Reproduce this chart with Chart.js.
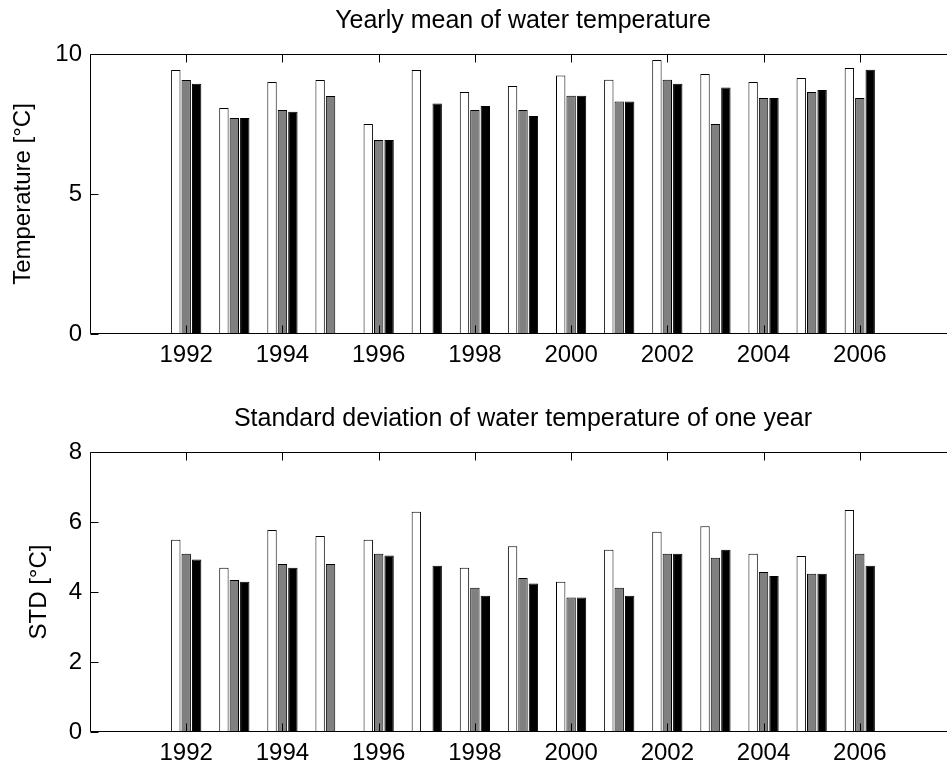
<!DOCTYPE html>
<html><head><meta charset="utf-8">
<script src="https://cdn.jsdelivr.net/npm/chart.js@4"></script>
<style>
html,body{margin:0;padding:0;background:#fff;overflow:hidden;width:947px;height:765px;position:relative;}
#c1{position:absolute;left:0;top:0;}
#c2{position:absolute;left:0;top:390px;}
</style></head><body>
<canvas id="c1" width="956" height="390"></canvas>
<canvas id="c2" width="956" height="375"></canvas>
<script>
// ---- data ----
const years = [1992,1993,1994,1995,1996,1997,1998,1999,2000,2001,2002,2003,2004,2005,2006];
const meanWhite = [9.43,8.07,9.00,9.07,7.50,9.43,8.64,8.86,9.23,9.08,9.79,9.29,9.00,9.14,9.50];
const meanGray  = [9.07,7.71,8.00,8.50,6.93,null,8.00,8.00,8.51,8.30,9.08,7.50,8.43,8.64,8.43];
const meanBlack = [8.94,7.71,7.94,null,6.93,8.23,8.14,7.79,8.51,8.30,8.94,8.80,8.43,8.71,9.44];
const stdWhite  = [5.49,4.69,5.77,5.60,5.49,6.29,4.69,5.31,4.29,5.21,5.72,5.88,5.09,5.03,6.34];
const stdGray   = [5.09,4.34,4.80,4.80,5.09,null,4.12,4.40,3.84,4.12,5.09,4.98,4.57,4.52,5.09];
const stdBlack  = [4.93,4.29,4.69,null,5.04,4.75,3.89,4.24,3.84,3.89,5.09,5.21,4.46,4.52,4.75];
const xTickYears = [1992,1994,1996,1998,2000,2002,2004,2006];
const meanTicks = [0,5,10];
const stdTicks = [0,2,4,6,8];
const xMin = 1990, xMax = 2008;

Chart.defaults.font.family = '"Liberation Sans", Arial, Helvetica, sans-serif';
Chart.defaults.color = '#000';

const boxPlugin = {
  id: 'matlabBox',
  afterDatasetsDraw(chart) {
    const {ctx, chartArea, scales} = chart;
    const x = scales.x, y = scales.y;
    const l = Math.round(chartArea.left) + 0.5, r = Math.round(chartArea.right) - 0.5;
    const t = Math.round(chartArea.top) + 0.5, b = Math.round(chartArea.bottom) - 0.5;
    const L = 8;
    ctx.save();
    ctx.strokeStyle = '#000';
    ctx.lineWidth = 1;
    ctx.beginPath();
    ctx.rect(l, t, r - l, b - t);
    x.ticks.forEach(tk => {
      const px = Math.round(x.getPixelForValue(tk.value)) + 0.5;
      ctx.moveTo(px, t); ctx.lineTo(px, t + L);
      ctx.moveTo(px, b); ctx.lineTo(px, b - L);
    });
    y.ticks.forEach(tk => {
      const py = Math.round(y.getPixelForValue(tk.value)) + 0.5;
      ctx.moveTo(l, py); ctx.lineTo(l + L, py);
      ctx.moveTo(r, py); ctx.lineTo(r - L, py);
    });
    ctx.stroke();
    ctx.restore();
  }
};

function makeDataset(vals, fill) {
  return {
    data: years.map((yr, i) => ({x: yr, y: vals[i]})),
    backgroundColor: fill,
    borderColor: '#000',
    borderWidth: 1,
    borderSkipped: false,
    categoryPercentage: 0.65,
    barPercentage: 0.9
  };
}

function makeChart(id, title, yTitle, sets, yTicks, cfg) {
  return new Chart(document.getElementById(id), {
    type: 'bar',
    data: { datasets: sets },
    plugins: [boxPlugin],
    options: {
      responsive: false,
      devicePixelRatio: 1,
      animation: false,
      layout: { padding: {left: 0, right: 0, top: 0, bottom: 0} },
      plugins: {
        legend: {display: false},
        tooltip: {enabled: false},
        title: {
          display: true, text: title, fullSize: false, color: '#000',
          font: {size: 25, weight: 'normal'},
          padding: {top: cfg.titleTop, bottom: cfg.titleBottom}
        }
      },
      scales: {
        x: {
          type: 'linear', min: xMin, max: xMax, offset: false,
          grid: {display: false, drawTicks: false},
          border: {display: false},
          afterBuildTicks: s => { s.ticks = xTickYears.map(v => ({value: v})); },
          afterFit: s => { s.height = cfg.xHeight; },
          ticks: { font: {size: 24}, padding: 7, maxRotation: 0, autoSkip: false,
                   callback: v => String(v) }
        },
        y: {
          min: yTicks[0], max: yTicks[yTicks.length - 1],
          grid: {display: false, drawTicks: false},
          border: {display: false},
          afterBuildTicks: s => { s.ticks = yTicks.map(v => ({value: v})); },
          afterFit: s => { s.width = 90; },
          ticks: { font: {size: 24}, padding: 8, callback: v => String(v) },
          title: { display: true, text: yTitle, font: {size: 24}, color: '#000',
                   padding: {top: cfg.yTitlePad, bottom: 0} }
        }
      }
    }
  });
}

makeChart('c1', 'Yearly mean of water temperature', 'Temperature [°C]',
  [makeDataset(meanWhite, '#ffffff'), makeDataset(meanGray, '#808080'), makeDataset(meanBlack, '#000000')],
  meanTicks, {titleTop: 6, titleBottom: 18, xHeight: 56, yTitlePad: 8.6});

makeChart('c2', 'Standard deviation of water temperature of one year', 'STD [°C]',
  [makeDataset(stdWhite, '#ffffff'), makeDataset(stdGray, '#808080'), makeDataset(stdBlack, '#000000')],
  stdTicks, {titleTop: 14, titleBottom: 18, xHeight: 33, yTitlePad: 25});
</script>
</body></html>
